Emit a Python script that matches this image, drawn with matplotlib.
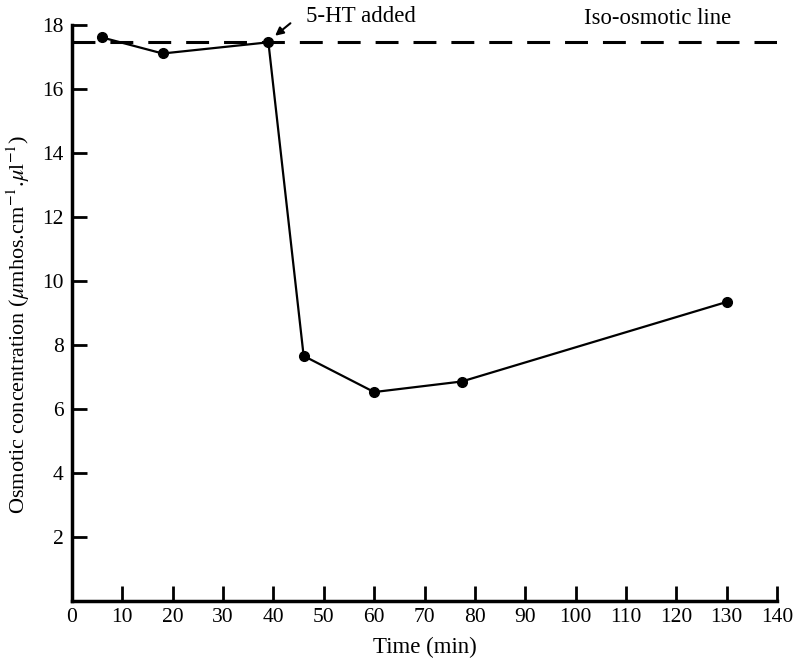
import matplotlib
matplotlib.use('Agg')
import matplotlib.pyplot as plt
import numpy as np

# Tempo (min) e concentracao osmotica
tempo = [6.0, 18.0, 39.0, 46.0, 60.0, 77.4, 130.1]
osmo = [17.6, 17.1, 17.45, 7.65, 6.52, 6.85, 9.34]
iso_osmotico = 17.47

xticks = list(range(0, 141, 10))
yticks = list(range(2, 19, 2))

plt.rcParams['font.family'] = ['Liberation Serif', 'DejaVu Serif']
plt.rcParams['mathtext.fontset'] = 'stix'

fig = plt.figure(figsize=(7.96, 6.63), dpi=100)
ax = fig.add_axes([72/796, 62.3/663, 705/796, 576/663])

# linha iso-osmotica tracejada
ax.axhline(iso_osmotico, color='k', linewidth=2.2, dashes=(7.5, 4.9))
ax.plot(tempo, osmo, color='k', linewidth=1.6, marker='o', markersize=7)

ax.set_xlim(0, 140)
ax.set_ylim(0, 18)
ax.set_xticks(xticks)
ax.set_yticks(yticks)
ax.tick_params(direction='in', length=11, width=2, labelsize=15.5, pad=6)
ax.tick_params(axis='x', pad=5)

for s in ['top', 'right']:
    ax.spines[s].set_visible(False)
ax.spines['left'].set_linewidth(2.5)
ax.spines['bottom'].set_linewidth(2.5)

ax.set_xlabel('Time (min)', fontsize=16.5)
ax.set_ylabel(r'Osmotic concentration ($\mu$mhos.cm$^{-1}$.$\mu$l$^{-1}$)', fontsize=16)
ax.yaxis.set_label_coords(-0.057, 0.48)
ax.xaxis.set_label_coords(0.5, -0.062)

ax.annotate('', xy=(39.9, 17.6), xytext=(43.8, 18.1),
            arrowprops=dict(arrowstyle='-|>', color='k', lw=1.5, mutation_scale=12),
            annotation_clip=False)
ax.text(46.4, 18.27, '5-HT added', fontsize=16.5, ha='left', va='center')
ax.text(101.6, 18.2, 'Iso-osmotic line', fontsize=16.3, ha='left', va='center')

fig.savefig('out.png', dpi=100)
